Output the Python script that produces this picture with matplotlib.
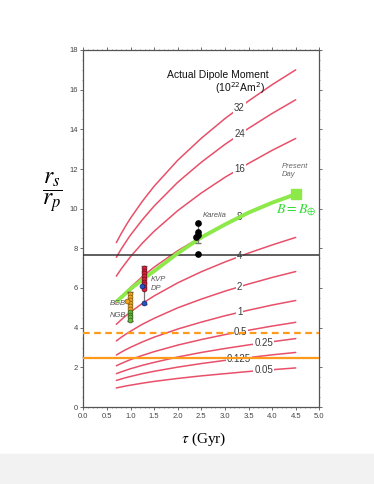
import numpy as np
import matplotlib
matplotlib.use("Agg")
import matplotlib.pyplot as plt
from matplotlib.patches import Rectangle

plt.rcParams['font.family'] = ['Liberation Sans', 'DejaVu Sans']
plt.rcParams['mathtext.fontset'] = 'stix'

# ---------------- data ----------------
tau = [0.7, 0.8, 0.9, 1.0, 1.25, 1.5, 2.0, 2.5, 3.0, 3.5, 4.0, 4.5]
moment_labels = ["32", "24", "16", "8", "4", "2", "1", "0.5", "0.25", "0.125", "0.05"]
curve_32 = [8.29, 8.73, 9.14, 9.52, 10.37, 11.13, 12.44, 13.55, 14.54, 15.43, 16.25, 17.00]
curve_24 = [7.55, 7.95, 8.32, 8.67, 9.44, 10.13, 11.33, 12.34, 13.24, 14.05, 14.80, 15.49]
curve_16 = [6.60, 6.95, 7.27, 7.58, 8.26, 8.86, 9.90, 10.79, 11.58, 12.28, 12.94, 13.54]
curve_8 = [5.25, 5.53, 5.79, 6.03, 6.57, 7.05, 7.88, 8.58, 9.21, 9.77, 10.29, 10.77]
curve_4 = [4.17, 4.39, 4.60, 4.79, 5.22, 5.60, 6.26, 6.82, 7.31, 7.76, 8.17, 8.55]
curve_2 = [3.33, 3.51, 3.67, 3.82, 4.17, 4.47, 5.00, 5.44, 5.84, 6.20, 6.53, 6.83]
curve_1 = [2.62, 2.76, 2.89, 3.01, 3.28, 3.52, 3.93, 4.28, 4.60, 4.88, 5.14, 5.37]
curve_05 = [2.08, 2.19, 2.29, 2.39, 2.60, 2.79, 3.12, 3.40, 3.65, 3.87, 4.08, 4.27]
curve_025 = [1.68, 1.77, 1.85, 1.93, 2.10, 2.25, 2.52, 2.75, 2.95, 3.13, 3.29, 3.45]
curve_0125 = [1.34, 1.41, 1.48, 1.54, 1.68, 1.80, 2.01, 2.19, 2.35, 2.49, 2.63, 2.75]
curve_005 = [0.96, 1.01, 1.06, 1.10, 1.20, 1.29, 1.44, 1.57, 1.68, 1.79, 1.88, 1.97]
curves = [curve_32, curve_24, curve_16, curve_8, curve_4, curve_2, curve_1,
          curve_05, curve_025, curve_0125, curve_005]
label_tau = [3.31, 3.31, 3.31, 3.31, 3.31, 3.31, 3.31, 3.33, 3.82, 3.29, 3.82]

earth_tau = [0.72, 1.0, 1.25, 1.5, 2.0, 2.5, 3.0, 3.5, 4.0, 4.5]
earth_r = [5.35, 5.95, 6.42, 6.85, 7.75, 8.55, 9.20, 9.80, 10.30, 10.73]

hline_black = 7.68
hline_orange_dashed = 3.72
hline_orange = 2.47

bgb_tau = 0.99
bgb_r = [5.72, 5.56, 5.40, 5.25, 5.10, 4.95]
bgb_extra_tau = 0.93
bgb_extra_r = 5.32
ngb_r = [4.80, 4.66, 4.52, 4.40]
kvp_tau = 1.28
kvp_r = [7.02, 6.88, 6.74, 6.60, 6.46, 6.32, 6.18, 6.04, 5.94]
kvp_bar = [5.20, 7.10]
dp_tau = [1.24, 1.29]
dp_r = [6.08, 5.26]
karelia_tau = [2.44, 2.44, 2.42, 2.39, 2.44]
karelia_r = [9.30, 8.84, 8.67, 8.59, 7.72]
karelia_bar = [8.25, 9.23]

# ---------------- figure ----------------
fig = plt.figure(figsize=(3.74, 4.84), dpi=100)
fig.patches.append(Rectangle((0, 0), 1, 30 / 484, transform=fig.transFigure,
                             color='#f2f2f2', zorder=0))
ax = fig.add_axes([83.3 / 374, 1 - 407 / 484, 236 / 374, 357 / 484])
ax.set_xlim(0, 5)
ax.set_ylim(0, 18)

red = '#e8506a'
for lab, ys, lx in zip(moment_labels, curves, label_tau):
    ax.plot(tau, ys, color=red, lw=1.1, zorder=2, solid_capstyle='round')
    ly = np.interp(lx, tau, ys)
    ax.text(lx, ly, lab, ha='center', va='center', fontsize=7, color='#3a3a3a',
            zorder=3, bbox=dict(facecolor='white', edgecolor='none', pad=0.6))

ax.axhline(hline_black, color='#333333', lw=1.1, zorder=4)
ax.axhline(hline_orange_dashed, color='#ff9a1a', lw=1.6, ls=(0, (3, 2)), zorder=4)
ax.axhline(hline_orange, color='#ff9a1a', lw=1.6, zorder=4)

ax.plot(earth_tau, earth_r, color='#8de84a', lw=2.8, zorder=5, solid_capstyle='round')
ax.plot(earth_tau[-1], earth_r[-1], 's', color='#8de84a', ms=6.5, zorder=6)
ax.text(4.5, 9.93, r'$B = B_{\oplus}$', color='#33dd33', fontsize=10,
        ha='center', va='center', zorder=7)
ax.text(4.2, 12.32, 'Present\nDay', fontsize=5.5, style='italic', color='#666666',
        ha='left', va='top', linespacing=1.3, zorder=7)

ms = 3.5
# data clusters
ax.errorbar([bgb_tau], [(min(ngb_r) + max(bgb_r)) / 2], yerr=(max(bgb_r) - min(ngb_r)) / 2 + 0.08,
            fmt='none', ecolor='#555555', elinewidth=0.9, capsize=2.0, zorder=6)
ax.plot([bgb_tau] * len(bgb_r), bgb_r, 'o', color='#f2a21e', mec='#7a5a10', mew=0.5, ms=ms, zorder=7)
ax.plot([bgb_extra_tau], [bgb_extra_r], 'o', color='#f2a21e', mec='#7a5a10', mew=0.5, ms=ms, zorder=7)
ax.plot([bgb_tau] * len(ngb_r), ngb_r, 'o', color='#66bb33', mec='#335522', mew=0.5, ms=ms, zorder=7)

ax.errorbar([kvp_tau], [sum(kvp_bar) / 2], yerr=(kvp_bar[1] - kvp_bar[0]) / 2, fmt='none',
            ecolor='#777777', elinewidth=0.9, capsize=2.5, zorder=6)
ax.plot([kvp_tau] * len(kvp_r), kvp_r, 'o', color='#e0203a', mec='#661020', mew=0.5, ms=ms, zorder=7)
ax.plot(dp_tau, dp_r, 'o', color='#2255cc', mec='#112266', mew=0.5, ms=ms, zorder=8)

ax.errorbar([2.44], [sum(karelia_bar) / 2], yerr=(karelia_bar[1] - karelia_bar[0]) / 2,
            fmt='none', ecolor='#777777', elinewidth=0.9, capsize=2.5, zorder=6)
ax.plot(karelia_tau, karelia_r, 'o', color='black', ms=ms + 0.3, zorder=8)

for txt, x, y, ha in [('Karelia', 2.78, 9.68, 'center'), ('KVP', 1.42, 6.45, 'left'),
                      ('DP', 1.42, 5.98, 'left'), ('BGB', 0.9, 5.23, 'right'),
                      ('NGB', 0.9, 4.59, 'right')]:
    ax.text(x, y, txt, fontsize=5.5, style='italic', color='#555555', ha=ha,
            va='center', zorder=9)

ax.text(2.84, 16.74, 'Actual Dipole Moment', fontsize=7.5, ha='center', va='center', color='#111111')
ax.text(3.33, 16.07, r'(10$^{22}$Am$^{2}$)', fontsize=7.5, ha='center', va='center', color='#111111',
        math_fontfamily='dejavusans')

# axes styling
ax.set_xticks(np.arange(0, 5.01, 0.5))
ax.set_xticklabels([f'{v:.1f}' for v in np.arange(0, 5.01, 0.5)])
ax.set_yticks(np.arange(0, 18.1, 2))
ax.set_xticks(np.arange(0, 5.01, 0.1), minor=True)
ax.set_yticks(np.arange(0, 18.1, 0.5), minor=True)
ax.tick_params(which='major', direction='out', length=2.5, width=0.6, labelsize=5.5,
               labelcolor='#444444', color='#555555', pad=1.5, top=True, right=True)
ax.tick_params(which='minor', direction='out', length=1.0, width=0.5, color='#777777',
               top=True, right=True)
for s in ax.spines.values():
    s.set_color('#555555')
    s.set_linewidth(0.9)

fig.text(52 / 374, 1 - 193 / 484, r'$\dfrac{r_s}{r_p}$', fontsize=17, ha='center', va='center')
fig.text(204 / 374, 1 - 439 / 484, r'$\tau$ (Gyr)', fontsize=11, ha='center', va='center',
         family='Liberation Serif')

fig.savefig('out.png', dpi=100)
